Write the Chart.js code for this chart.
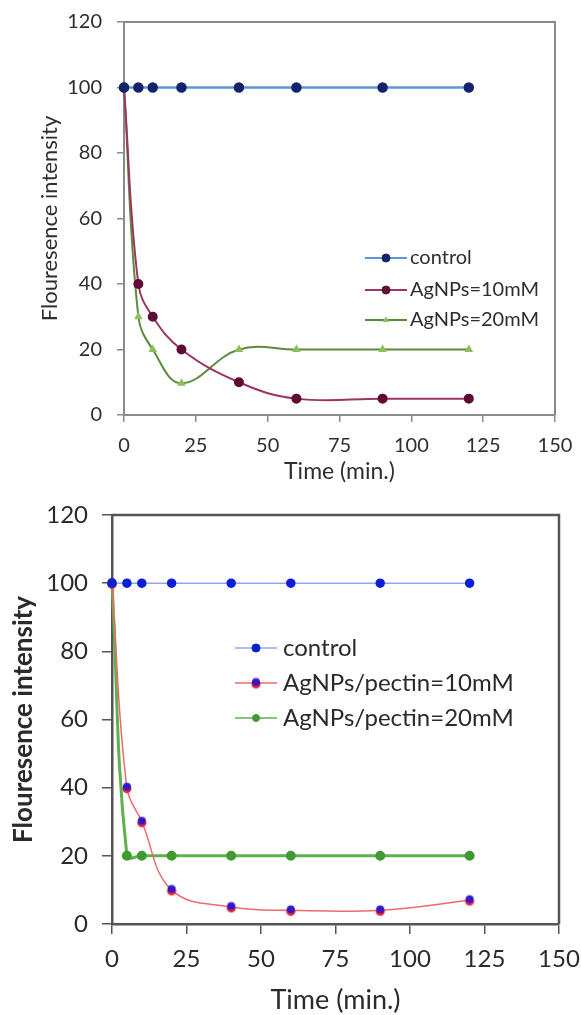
<!DOCTYPE html>
<html>
<head>
<meta charset="utf-8">
<script src="https://cdn.jsdelivr.net/npm/chart.js@4.4.1/dist/chart.umd.min.js"></script>
<style>
  html, body { margin: 0; padding: 0; background: #fff; }
  .panel { position: absolute; left: 0; width: 581px; }
  #p1 { top: 0; height: 500px; }
  #p2 { top: 500px; height: 515px; }
</style>
</head>
<body>
<div class="panel" id="p1"><canvas id="c1" width="581" height="500"></canvas></div>
<div class="panel" id="p2"><canvas id="c2" width="581" height="515"></canvas></div>
<script>
// Sampling times (minutes) shared by every series
const timesMin = [0, 5, 10, 20, 40, 60, 90, 120];
const xTickValues = [0, 25, 50, 75, 100, 125, 150];
const yTickValues = [0, 20, 40, 60, 80, 100, 120];

// Upper panel: silver nanoparticles
const seriesNamesTop = ['control', 'AgNPs=10mM', 'AgNPs=20mM'];
const controlTop = [100, 100, 100, 100, 100, 100, 100, 100];
const ag10Top    = [100, 40, 30, 20, 10, 5, 5, 5];
const ag20Top    = [100, 30, 20, 9.7, 20, 20, 20, 20];

// Lower panel: pectin-capped silver nanoparticles
const seriesNamesBottom = ['control', 'AgNPs/pectin=10mM', 'AgNPs/pectin=20mM'];
const controlBottom = [100, 100, 100, 100, 100, 100, 100, 100];
const ag10Bottom    = [100, 40, 30, 10, 5, 4, 4, 7];
const ag20Bottom    = [100, 20, 20, 20, 20, 20, 20, 20];

const FONT = 'Lato, "Open Sans", sans-serif';

function toPoints(values) {
  return timesMin.map((t, i) => ({ x: t, y: values[i] }));
}

// Two-tone marker (blue over red) used by the pectin 10 mM series
function twoToneMarker() {
  const c = document.createElement('canvas');
  c.width = 12; c.height = 13;
  const g = c.getContext('2d');
  g.fillStyle = '#f0263a';
  g.beginPath(); g.arc(6, 7.5, 4.6, 0, Math.PI * 2); g.fill();
  g.fillStyle = 'rgba(40,20,210,0.92)';
  g.beginPath(); g.arc(6, 5.5, 4.0, 0, Math.PI * 2); g.fill();
  return c;
}

// Box around the plotting area (top and right sides)
const frameBox = {
  id: 'frameBox',
  afterDraw(chart, args, opts) {
    const a = chart.chartArea, ctx = chart.ctx;
    ctx.save();
    ctx.strokeStyle = opts.color;
    ctx.lineWidth = opts.width;
    ctx.beginPath();
    ctx.moveTo(a.left, a.top);
    ctx.lineTo(a.right, a.top);
    ctx.lineTo(a.right, a.bottom);
    ctx.stroke();
    ctx.restore();
  }
};

// Legend drawn inside the plotting area from the dataset styles
const insideLegend = {
  id: 'insideLegend',
  afterDraw(chart, args, opts) {
    const ctx = chart.ctx;
    ctx.save();
    ctx.font = opts.font;
    ctx.textBaseline = 'middle';
    ctx.textAlign = 'left';
    chart.data.datasets.forEach((ds, i) => {
      const y = opts.y[i];
      ctx.strokeStyle = ds.borderColor;
      ctx.lineWidth = opts.lineWidth;
      ctx.beginPath();
      ctx.moveTo(opts.x0, y);
      ctx.lineTo(opts.x1, y);
      ctx.stroke();
      const mx = (opts.x0 + opts.x1) / 2;
      const st = ds.pointStyle;
      if (st instanceof HTMLCanvasElement) {
        ctx.drawImage(st, mx - st.width / 2, y - st.height / 2);
      } else {
        ctx.fillStyle = ds.pointBackgroundColor;
        ctx.strokeStyle = ds.pointBorderColor;
        ctx.lineWidth = 1;
        Chart.helpers.drawPoint(ctx, { pointStyle: st || 'circle', radius: ds.pointRadius, borderWidth: 1 }, mx, y);
      }
      ctx.fillStyle = opts.color;
      ctx.fillText(ds.label, opts.textX, y);
    });
    ctx.restore();
  }
};

function makeChart(canvas, cfg) {
  const tickFont = { family: FONT, size: cfg.tickSize };
  return new Chart(canvas, {
    type: 'line',
    data: { datasets: cfg.datasets },
    options: {
      responsive: false,
      animation: false,
      devicePixelRatio: 1,
      layout: { padding: cfg.padding, autoPadding: false },
      elements: { line: { tension: 0.4 } },
      plugins: {
        legend: { display: false },
        tooltip: { enabled: false },
        frameBox: cfg.frame,
        insideLegend: cfg.legend
      },
      scales: {
        x: {
          type: 'linear', min: 0, max: 150,
          afterBuildTicks: s => { s.ticks = xTickValues.map(v => ({ value: v })); },
          afterFit: s => { s.height = cfg.xHeight; s.paddingLeft = 0; s.paddingRight = 0; },
          grid: { drawOnChartArea: false, drawTicks: true, tickLength: cfg.tickLen, color: cfg.tickColor, lineWidth: 1.5 },
          border: { display: true, color: cfg.axisColor, width: cfg.axisWidth },
          ticks: { color: cfg.textColor, font: tickFont, padding: cfg.xTickPad, maxRotation: 0, autoSkip: false },
          title: { display: true, text: 'Time (min.)', color: cfg.textColor,
                   font: { family: FONT, size: cfg.xTitleSize, weight: cfg.xTitleWeight, lineHeight: 1.1 },
                   padding: { top: 0, bottom: cfg.xTitlePad } }
        },
        y: {
          type: 'linear', min: 0, max: 120,
          afterBuildTicks: s => { s.ticks = yTickValues.map(v => ({ value: v })); },
          afterFit: s => { s.width = cfg.yWidth; s.paddingTop = 0; s.paddingBottom = 0; },
          grid: { drawOnChartArea: false, drawTicks: true, tickLength: cfg.tickLen, color: cfg.tickColor, lineWidth: 1.5 },
          border: { display: true, color: cfg.axisColor, width: cfg.axisWidth },
          ticks: { color: cfg.textColor, font: tickFont, padding: cfg.yTickPad },
          title: { display: true, text: 'Flouresence intensity', color: cfg.textColor,
                   font: { family: FONT, size: cfg.yTitleSize, weight: cfg.yTitleWeight, lineHeight: 1.1 },
                   padding: { top: cfg.yTitlePad, bottom: 0 } }
        }
      }
    },
    plugins: [frameBox, insideLegend]
  });
}

// Upper panel
makeChart(document.getElementById('c1'), {
  padding: { left: 0, top: 22, right: 26, bottom: 0 },
  yWidth: 124, xHeight: 85,
  tickLen: 7, tickColor: '#8a8a8a', axisColor: '#8a8a8a', axisWidth: 2,
  textColor: '#2e2e2e', tickSize: 20,
  xTitleSize: 23, xTitleWeight: 'normal', yTitleSize: 22, yTitleWeight: 'normal',
  xTickPad: 12, yTickPad: 15, xTitlePad: 16, yTitlePad: 38,
  frame: { color: '#8a8a8a', width: 2 },
  legend: { x0: 365, x1: 407, textX: 410, y: [258, 290, 320], lineWidth: 2,
            font: '20px ' + FONT, color: '#2e2e2e' },
  datasets: [
    { label: seriesNamesTop[0], data: toPoints(controlTop), borderColor: '#5b96d6', borderWidth: 2.5,
      pointRadius: 4, pointBackgroundColor: '#13236b', pointBorderColor: '#13236b', clip: false },
    { label: seriesNamesTop[1], data: toPoints(ag10Top), borderColor: '#9c3563', borderWidth: 2,
      pointRadius: 4, pointBackgroundColor: '#5e0b35', pointBorderColor: '#5e0b35', clip: false },
    { label: seriesNamesTop[2], data: toPoints(ag20Top), borderColor: '#5c8a3c', borderWidth: 2,
      pointRadius: 3, pointStyle: 'triangle', pointBackgroundColor: '#8cc05a', pointBorderColor: '#8cc05a', clip: false }
  ]
});

// Lower panel
makeChart(document.getElementById('c2'), {
  padding: { left: 0, top: 15, right: 22, bottom: 0 },
  yWidth: 112, xHeight: 91,
  tickLen: 10, tickColor: '#555', axisColor: '#555', axisWidth: 2.5,
  textColor: '#2a2a2a', tickSize: 24,
  xTitleSize: 27, xTitleWeight: 'normal', yTitleSize: 26, yTitleWeight: 'bold',
  xTickPad: 11, yTickPad: 14, xTitlePad: 0, yTitlePad: 9,
  frame: { color: '#555', width: 2.5 },
  legend: { x0: 235, x1: 277, textX: 283, y: [148, 183, 218], lineWidth: 1.5,
            font: '24px ' + FONT, color: '#2a2a2a' },
  datasets: [
    { label: seriesNamesBottom[0], data: toPoints(controlBottom), borderColor: '#8fa6f2', borderWidth: 1.5,
      pointRadius: 4, pointBackgroundColor: '#0a1fd6', pointBorderColor: '#0a1fd6', clip: false },
    { label: seriesNamesBottom[1], data: toPoints(ag10Bottom), borderColor: '#ee6a6a', borderWidth: 1.5,
      pointRadius: 5, pointStyle: twoToneMarker(), clip: false },
    { label: seriesNamesBottom[2], data: toPoints(ag20Bottom), borderColor: '#5fb04e', borderWidth: 3,
      pointRadius: 3.5, pointBackgroundColor: '#3f9a30', pointBorderColor: '#3f9a30', clip: false }
  ]
});
</script>
</body>
</html>
